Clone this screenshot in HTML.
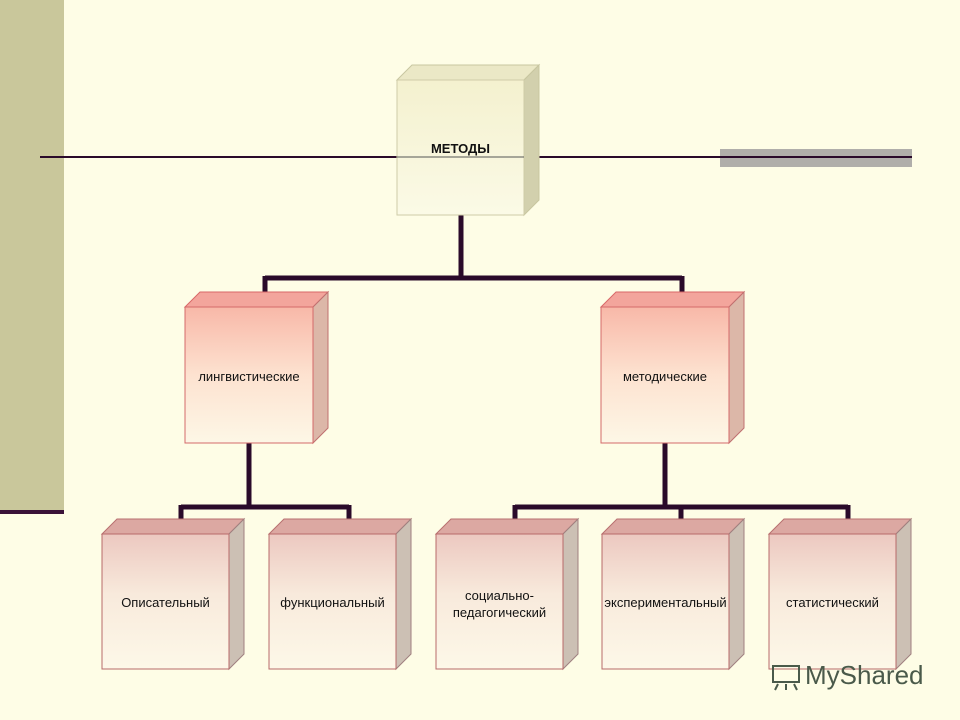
<!DOCTYPE html>
<html><head><meta charset="utf-8"><style>
html,body{margin:0;padding:0;background:#fefde6}
svg{display:block}
text{font-family:"Liberation Sans",sans-serif;fill:#111}
</style></head><body>
<svg width="960" height="720" viewBox="0 0 960 720" xmlns="http://www.w3.org/2000/svg">
<defs>
<linearGradient id="cr" x1="0" y1="0" x2="0" y2="1"><stop offset="0" stop-color="#f4f1cf"/><stop offset="1" stop-color="#fbfae6"/></linearGradient>
<linearGradient id="pk" x1="0" y1="0" x2="0" y2="1"><stop offset="0" stop-color="#f8b8a8"/><stop offset="0.5" stop-color="#fde2d0"/><stop offset="1" stop-color="#fdf7e6"/></linearGradient>
<linearGradient id="pk3" x1="0" y1="0" x2="0" y2="1"><stop offset="0" stop-color="#ecc8c0"/><stop offset="0.45" stop-color="#f8eadc"/><stop offset="1" stop-color="#fdf8e8"/></linearGradient>
</defs>
<rect width="960" height="720" fill="#fefde6"/>
<rect x="0" y="0" width="64" height="510" fill="#c9c79b"/>
<rect x="0" y="510" width="64" height="4" fill="#3a1238"/>
<rect x="720" y="149" width="192" height="18" fill="#b0aeaa"/>
<line x1="40" y1="157" x2="912" y2="157" stroke="#2a0a2a" stroke-width="2"/>

<!-- connectors -->
<g stroke="#2a0a2a" stroke-width="5" fill="none">
<path d="M461 215V278M265 278H682M265 276V293M682 276V293"/>
<path d="M249 443V507M181 507H349M181 505V521M349 505V521"/>
<path d="M665 443V507M515 507H848M515 505V521M681 505V521M848 505V521"/>
</g>

<!-- top box -->
<polygon points="397,80 412,65 539,65 524,80" fill="#ebe8c6" stroke="#c8c6a0"/>
<polygon points="524,80 539,65 539,200 524,215" fill="#d2d0ad" stroke="#c8c6a0"/>
<rect x="397" y="80" width="127" height="135" fill="url(#cr)" stroke="#cfcca8"/>
<line x1="397" y1="157" x2="524" y2="157" stroke="#555" stroke-width="1"/>
<text x="460.5" y="153" font-size="13" font-weight="bold" text-anchor="middle">МЕТОДЫ</text>

<!-- level 2 -->
<g>
<polygon points="185,307 200,292 328,292 313,307" fill="#f3a59c" stroke="#d86868"/>
<polygon points="313,307 328,292 328,428 313,443" fill="#dcb7a8" stroke="#c07070"/>
<rect x="185" y="307" width="128" height="136" fill="url(#pk)" stroke="#d46a6a"/>
<text x="249" y="381" font-size="13" text-anchor="middle">лингвистические</text>
<polygon points="601,307 616,292 744,292 729,307" fill="#f3a59c" stroke="#d86868"/>
<polygon points="729,307 744,292 744,428 729,443" fill="#dcb7a8" stroke="#c07070"/>
<rect x="601" y="307" width="128" height="136" fill="url(#pk)" stroke="#d46a6a"/>
<text x="665" y="381" font-size="13" text-anchor="middle">методические</text>
</g>

<!-- level 3 -->
<g font-size="13">
<g>
<polygon points="102,534 117,519 244,519 229,534" fill="#dca8a2" stroke="#b87070"/>
<polygon points="229,534 244,519 244,654 229,669" fill="#ccc0b4" stroke="#a08080"/>
<rect x="102" y="534" width="127" height="135" fill="url(#pk3)" stroke="#b86a6a"/>
<text x="165.5" y="607" text-anchor="middle">Описательный</text>
</g>
<g>
<polygon points="269,534 284,519 411,519 396,534" fill="#dca8a2" stroke="#b87070"/>
<polygon points="396,534 411,519 411,654 396,669" fill="#ccc0b4" stroke="#a08080"/>
<rect x="269" y="534" width="127" height="135" fill="url(#pk3)" stroke="#b86a6a"/>
<text x="332.5" y="607" text-anchor="middle">функциональный</text>
</g>
<g>
<polygon points="436,534 451,519 578,519 563,534" fill="#dca8a2" stroke="#b87070"/>
<polygon points="563,534 578,519 578,654 563,669" fill="#ccc0b4" stroke="#a08080"/>
<rect x="436" y="534" width="127" height="135" fill="url(#pk3)" stroke="#b86a6a"/>
<text x="499.5" y="600" text-anchor="middle">социально-</text>
<text x="499.5" y="617" text-anchor="middle">педагогический</text>
</g>
<g>
<polygon points="602,534 617,519 744,519 729,534" fill="#dca8a2" stroke="#b87070"/>
<polygon points="729,534 744,519 744,654 729,669" fill="#ccc0b4" stroke="#a08080"/>
<rect x="602" y="534" width="127" height="135" fill="url(#pk3)" stroke="#b86a6a"/>
<text x="665.5" y="607" text-anchor="middle">экспериментальный</text>
</g>
<g>
<polygon points="769,534 784,519 911,519 896,534" fill="#dca8a2" stroke="#b87070"/>
<polygon points="896,534 911,519 911,654 896,669" fill="#ccc0b4" stroke="#a08080"/>
<rect x="769" y="534" width="127" height="135" fill="url(#pk3)" stroke="#b86a6a"/>
<text x="832.5" y="607" text-anchor="middle">статистический</text>
</g>
</g>

<!-- watermark -->
<g fill="none" stroke="#4a5a4a" stroke-width="2">
<rect x="773" y="666" width="26" height="16"/>
<path d="M778 684l-3 6M786 684v6M794 684l3 6"/>
</g>
<text x="805" y="684" font-size="26" style="fill:#4a5a4a">MyShared</text>
</svg>
</body></html>
